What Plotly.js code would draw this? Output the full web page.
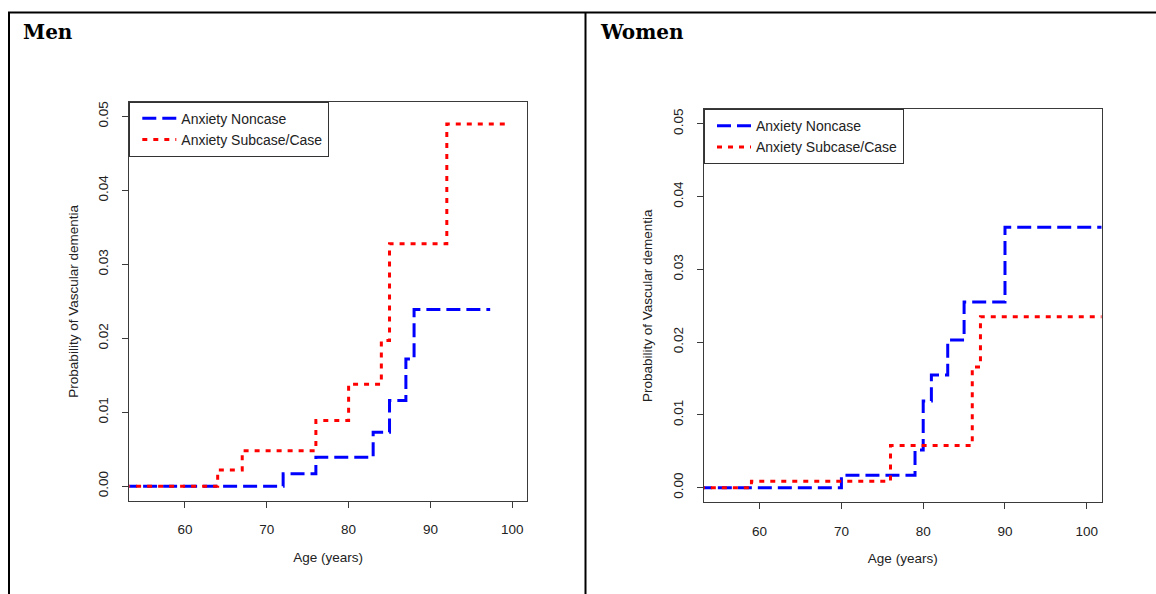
<!DOCTYPE html>
<html>
<head>
<meta charset="utf-8">
<script src="https://cdn.plot.ly/plotly-3.0.1.min.js"></script>
<style>
  html, body { margin: 0; padding: 0; background: #ffffff; }
  #chart { width: 1156px; height: 594px; }
</style>
</head>
<body>
<div id="chart"></div>
<script>
// ---- Data ----
const seriesNames = ["Anxiety Noncase", "Anxiety Subcase/Case"];
const panelTitles = ["Men", "Women"];

// Men
const menNoncaseAge  = [50, 72, 76, 83, 85, 87, 88, 97.3];
const menNoncaseProb = [0, 0.0017, 0.0039, 0.0073, 0.0116, 0.0172, 0.0239, 0.0239];
const menCaseAge     = [50, 64, 67, 76, 80, 84, 85, 92, 99.3];
const menCaseProb    = [0, 0.0022, 0.0048, 0.0089, 0.0138, 0.0197, 0.0328, 0.0490, 0.0490];

// Women
const womenNoncaseAge  = [50, 70, 79, 80, 81, 83, 85, 90, 104];
const womenNoncaseProb = [0, 0.0017, 0.0052, 0.0119, 0.0155, 0.0203, 0.0255, 0.0358, 0.0358];
const womenCaseAge     = [50, 59, 76, 86, 87, 104];
const womenCaseProb    = [0, 0.0009, 0.0058, 0.0166, 0.0235, 0.0235];

// Axis ticks
const xTicks = [60, 70, 80, 90, 100];
const yTicks = [0, 0.01, 0.02, 0.03, 0.04, 0.05];
const xTitle = "Age (years)";
const yTitle = "Probability of Vascular dementia";

// ---- Styling ----
const W = 1156, H = 594;
const BLUE = "#0000ff", RED = "#ff0000";
const sans = "Liberation Sans, Arial, sans-serif";
const axisCol = "#3a3a3a";

function px(x) { return x / W; }
function py(y) { return 1 - y / H; }

function mkTrace(x, y, name, color, dash, xa, ya, legend, show) {
  return {
    type: "scatter", mode: "lines", x: x, y: y, name: name,
    line: { shape: "hv", color: color, width: 3, dash: dash },
    xaxis: xa, yaxis: ya, legend: legend, showlegend: show,
    hoverinfo: "skip"
  };
}

const traces = [
  mkTrace(menNoncaseAge, menNoncaseProb, seriesNames[0], BLUE, "14px,6px", "x", "y", "legend", true),
  mkTrace(menCaseAge, menCaseProb, seriesNames[1], RED, "5px,6px", "x", "y", "legend", true),
  mkTrace(womenNoncaseAge, womenNoncaseProb, seriesNames[0], BLUE, "14px,6px", "x2", "y2", "legend2", true),
  mkTrace(womenCaseAge, womenCaseProb, seriesNames[1], RED, "5px,6px", "x2", "y2", "legend2", true)
];

function xAxis(domain, anchor) {
  return {
    domain: domain, anchor: anchor, range: [53.2, 101.8],
    tickmode: "array", tickvals: xTicks,
    ticks: "outside", ticklen: 6, tickwidth: 1, tickcolor: axisCol,
    showline: true, mirror: true, linecolor: axisCol, linewidth: 1,
    showgrid: false, zeroline: false,
    tickfont: { family: sans, size: 13.5, color: "#222" },
    ticklabelstandoff: 10,
    title: { text: xTitle, font: { family: sans, size: 13.5, color: "#222" }, standoff: 16 }
  };
}
function yAxis(domain, anchor) {
  return {
    domain: domain, anchor: anchor, range: [-0.002, 0.052],
    tickmode: "array", tickvals: yTicks, tickformat: ".2f",
    tickangle: -90,
    ticks: "outside", ticklen: 6, tickwidth: 1, tickcolor: axisCol,
    showline: true, mirror: true, linecolor: axisCol, linewidth: 1,
    showgrid: false, zeroline: false,
    tickfont: { family: sans, size: 13.5, color: "#222" },
    ticklabelstandoff: 9,
    title: { text: yTitle, font: { family: sans, size: 13.5, color: "#222" }, standoff: 14 }
  };
}

function legendAt(x, y) {
  return {
    x: x, y: y, xanchor: "left", yanchor: "top",
    xref: "paper", yref: "paper",
    bgcolor: "#ffffff", bordercolor: "#333333", borderwidth: 1,
    font: { family: sans, size: 14, color: "#222" },
    indentation: 7, itemwidth: 34,
    tracegroupgap: 0, itemclick: false, itemdoubleclick: false
  };
}

const layout = {
  width: W, height: H,
  margin: { l: 0, r: 0, t: 0, b: 0, pad: 0 },
  paper_bgcolor: "#ffffff", plot_bgcolor: "#ffffff",
  showlegend: true,
  xaxis: xAxis([px(129.3), px(527)], "y"),
  yaxis: yAxis([py(501), py(101.7)], "x"),
  xaxis2: xAxis([px(704), px(1101.5)], "y2"),
  yaxis2: yAxis([py(502.3), py(109.2)], "x2"),
  legend: legendAt(px(129.3), py(101.7)),
  legend2: legendAt(px(704), py(109.2)),
  shapes: [
    { type: "line", xref: "paper", yref: "paper", x0: px(8), x1: 1, y0: py(12.5), y1: py(12.5), line: { color: "#000", width: 2 } },
    { type: "line", xref: "paper", yref: "paper", x0: px(9), x1: px(9), y0: py(12), y1: 0, line: { color: "#000", width: 2 } },
    { type: "line", xref: "paper", yref: "paper", x0: px(585.5), x1: px(585.5), y0: py(12), y1: 0, line: { color: "#000", width: 2 } }
  ],
  annotations: [
    { text: "<b>" + panelTitles[0] + "</b>", xref: "paper", yref: "paper", x: px(21), y: py(18), xanchor: "left", yanchor: "top",
      showarrow: false, font: { family: "DejaVu Serif, serif", size: 20, color: "#000" } },
    { text: "<b>" + panelTitles[1] + "</b>", xref: "paper", yref: "paper", x: px(598), y: py(18), xanchor: "left", yanchor: "top",
      showarrow: false, font: { family: "DejaVu Serif, serif", size: 20, color: "#000" } }
  ]
};

Plotly.newPlot("chart", traces, layout, { staticPlot: true, displayModeBar: false });
</script>
</body>
</html>
